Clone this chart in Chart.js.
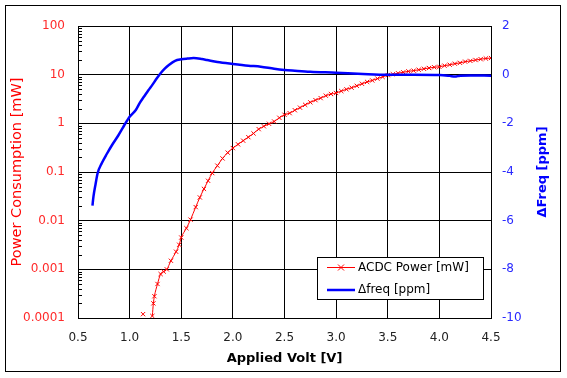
<!DOCTYPE html>
<html>
<head>
<meta charset="utf-8">
<script src="https://cdn.jsdelivr.net/npm/chart.js@4"></script>
<style>
html,body{margin:0;padding:0;background:#fff;}
canvas{display:block;}
</style>
</head>
<body>
<canvas id="c" width="567" height="378"></canvas>
<script>
// ---- data ----
const xTickValues = [0.5, 1.0, 1.5, 2.0, 2.5, 3.0, 3.5, 4.0, 4.5];
const xTickLabels = ['0.5','1.0','1.5','2.0','2.5','3.0','3.5','4.0','4.5'];
const leftTickValues = [0.0001, 0.001, 0.01, 0.1, 1, 10, 100];
const leftTickLabels = ['0.0001','0.001','0.01','0.1','1','10','100'];
const rightTickValues = [-10, -8, -6, -4, -2, 0, 2];
const rightTickLabels = ['-10','-8','-6','-4','-2','0','2'];

const powerVolt = [1.13, 1.18, 1.22, 1.23, 1.24, 1.27, 1.30, 1.33, 1.36, 1.40, 1.45, 1.48, 1.50, 1.55, 1.59, 1.64, 1.68, 1.72, 1.76, 1.80, 1.85, 1.90, 1.95, 2.00, 2.05, 2.10, 2.15, 2.20, 2.25, 2.30, 2.35, 2.40, 2.45, 2.50, 2.55, 2.60, 2.65, 2.70, 2.75, 2.80, 2.85, 2.90, 2.95, 3.00, 3.05, 3.10, 3.15, 3.20, 3.25, 3.30, 3.35, 3.40, 3.45, 3.50, 3.55, 3.60, 3.65, 3.70, 3.75, 3.80, 3.85, 3.90, 3.95, 4.00, 4.05, 4.10, 4.15, 4.20, 4.25, 4.30, 4.35, 4.40, 4.45, 4.50];
const powerMW = [0.00012, null, 0.00011, 0.0002, 0.00028, 0.0005, 0.0008, 0.0009, 0.001, 0.0015, 0.0023, 0.0032, 0.0045, 0.007, 0.0105, 0.019, 0.03, 0.045, 0.066, 0.095, 0.135, 0.19, 0.25, 0.31, 0.37, 0.44, 0.52, 0.62, 0.76, 0.87, 0.98, 1.09, 1.3, 1.5, 1.62, 1.86, 2.1, 2.4, 2.7, 3.0, 3.3, 3.7, 4.0, 4.2, 4.6, 5.0, 5.4, 5.9, 6.5, 7.1, 7.6, 8.3, 9.0, 9.8, 10.2, 10.7, 11.2, 11.7, 12.1, 12.6, 13.2, 13.7, 14.2, 14.5, 15.3, 16.0, 16.8, 17.5, 18.5, 19.2, 20.0, 20.8, 21.5, 22.0];

const freqVolt = [0.64, 0.65, 0.67, 0.69, 0.73, 0.78, 0.83, 0.89, 0.94, 1.00, 1.06, 1.10, 1.14, 1.18, 1.22, 1.26, 1.30, 1.34, 1.38, 1.44, 1.50, 1.56, 1.62, 1.70, 1.75, 1.85, 2.00, 2.15, 2.27, 2.40, 2.50, 2.60, 2.75, 3.00, 3.26, 3.50, 3.75, 4.00, 4.10, 4.15, 4.20, 4.30, 4.50];
const freqPPM = [-5.38, -5.0, -4.5, -4.05, -3.64, -3.25, -2.89, -2.5, -2.14, -1.73, -1.45, -1.15, -0.90, -0.65, -0.42, -0.17, 0.06, 0.25, 0.40, 0.57, 0.63, 0.66, 0.68, 0.64, 0.60, 0.52, 0.44, 0.37, 0.33, 0.24, 0.19, 0.16, 0.12, 0.08, 0.03, 0.0, 0.0, -0.01, -0.05, -0.08, -0.04, -0.03, -0.04];

const seriesNames = ['ACDC Power [mW]', '\u0394freq [ppm]'];
const rightTitle = '\u0394Freq [ppm]';

const RED = '#ff0000';
const BLUE = '#0000ff';
const FONT = 'DejaVu Sans';

const frame = {
  id: 'frame',
  beforeDraw(chart) {
    const ctx = chart.ctx;
    ctx.save();
    ctx.fillStyle = '#fff';
    ctx.fillRect(0, 0, chart.width, chart.height);
    ctx.strokeStyle = '#000';
    ctx.lineWidth = 1;
    ctx.strokeRect(5.5, 5.5, 555, 366);
    ctx.restore();
  },
  afterDraw(chart) {
    const ctx = chart.ctx;
    const ys = chart.scales.y;
    const ca = chart.chartArea;
    ctx.save();
    // minor log ticks inside the left axis
    ctx.strokeStyle = '#000';
    ctx.lineWidth = 1;
    ctx.beginPath();
    for (let d = -4; d <= 1; d++) {
      for (let k = 2; k <= 9; k++) {
        const py = Math.round(ys.getPixelForValue(k * Math.pow(10, d))) + 0.5;
        ctx.moveTo(ys.right, py);
        ctx.lineTo(ys.right + 4, py);
      }
    }
    ctx.stroke();
    // right axis title, reading bottom-to-top
    ctx.save();
    ctx.translate(543, (ca.top + ca.bottom) / 2);
    ctx.rotate(-Math.PI / 2);
    ctx.font = 'bold 13px "' + FONT + '"';
    ctx.fillStyle = BLUE;
    ctx.textAlign = 'center';
    ctx.textBaseline = 'middle';
    ctx.fillText(rightTitle, 0, 0);
    ctx.restore();
    // legend box
    const bx = 317.5, by = 257.5, bw = 166, bh = 42;
    ctx.fillStyle = '#fff';
    ctx.fillRect(bx, by, bw, bh);
    ctx.strokeRect(bx, by, bw, bh);
    const ds = chart.data.datasets;
    ctx.font = '12px "' + FONT + '"';
    ctx.textBaseline = 'middle';
    ctx.textAlign = 'left';
    // entry 1
    let ly = 267.5;
    ctx.strokeStyle = ds[0].borderColor;
    ctx.lineWidth = ds[0].borderWidth;
    ctx.beginPath(); ctx.moveTo(327, ly); ctx.lineTo(355, ly); ctx.stroke();
    ctx.beginPath();
    ctx.moveTo(338, ly - 3); ctx.lineTo(344, ly + 3);
    ctx.moveTo(344, ly - 3); ctx.lineTo(338, ly + 3);
    ctx.stroke();
    ctx.fillStyle = '#000';
    ctx.fillText(ds[0].label, 358, ly);
    // entry 2
    ly = 290;
    ctx.strokeStyle = ds[1].borderColor;
    ctx.lineWidth = ds[1].borderWidth;
    ctx.beginPath(); ctx.moveTo(327, ly); ctx.lineTo(355, ly); ctx.stroke();
    ctx.fillText(ds[1].label, 358, ly);
    ctx.restore();
  }
};

new Chart(document.getElementById('c'), {
  type: 'line',
  data: {
    datasets: [
      {
        label: seriesNames[0],
        data: powerVolt.map((v, i) => ({x: v, y: powerMW[i]})),
        yAxisID: 'y',
        borderColor: RED,
        backgroundColor: RED,
        borderWidth: 1,
        pointStyle: 'crossRot',
        pointRadius: 3,
        pointBorderWidth: 1,
        pointBorderColor: RED,
        spanGaps: false,
        cubicInterpolationMode: 'monotone',
        fill: false,
        order: 2
      },
      {
        label: seriesNames[1],
        data: freqVolt.map((v, i) => ({x: v, y: freqPPM[i]})),
        yAxisID: 'y1',
        borderColor: BLUE,
        backgroundColor: BLUE,
        borderWidth: 2.5,
        pointRadius: 0,
        cubicInterpolationMode: 'monotone',
        fill: false,
        order: 1
      }
    ]
  },
  plugins: [frame],
  options: {
    responsive: false,
    animation: false,
    events: [],
    layout: {padding: {top: 26, left: 0, right: 0, bottom: 0}},
    plugins: {legend: {display: false}, tooltip: {enabled: false}},
    scales: {
      x: {
        type: 'linear', min: 0.5, max: 4.5,
        afterBuildTicks: s => { s.ticks = xTickValues.map(v => ({value: v})); },
        afterFit: s => { s.height = 60; },
        ticks: {
          callback: (v, i) => xTickLabels[i],
          color: '#222', padding: 13, maxRotation: 0, autoSkip: false,
          font: {family: FONT, size: 12}
        },
        grid: {color: '#000', lineWidth: 1, drawTicks: false},
        border: {color: '#000', width: 1},
        title: {
          display: true, text: 'Applied Volt [V]', color: '#000',
          font: {family: FONT, size: 13, weight: 'bold'},
          padding: {top: 0, bottom: 12}
        }
      },
      y: {
        type: 'logarithmic', position: 'left', min: 0.0001, max: 100,
        afterBuildTicks: s => { s.ticks = leftTickValues.map(v => ({value: v, major: true})); },
        afterFit: s => { s.width = 78; },
        ticks: {
          callback: (v, i) => leftTickLabels[i],
          color: '#ff2a2a', padding: 13, autoSkip: false,
          font: {family: FONT, size: 12}
        },
        grid: {color: '#000', lineWidth: 1, drawTicks: false},
        border: {color: '#000', width: 1},
        title: {
          display: true, text: 'Power Consumption [mW]', color: RED,
          font: {family: FONT, size: 14.5},
          padding: {top: 9, bottom: 0}
        }
      },
      y1: {
        type: 'linear', position: 'right', min: -10, max: 2,
        afterBuildTicks: s => { s.ticks = rightTickValues.map(v => ({value: v})); },
        afterFit: s => { s.width = 76; },
        ticks: {
          callback: (v, i) => rightTickLabels[i],
          color: '#2a2aff', padding: 11, autoSkip: false,
          font: {family: FONT, size: 12}
        },
        grid: {drawOnChartArea: false, drawTicks: false},
        border: {color: '#000', width: 1},
        title: {display: false}
      }
    }
  }
});
</script>
</body>
</html>
